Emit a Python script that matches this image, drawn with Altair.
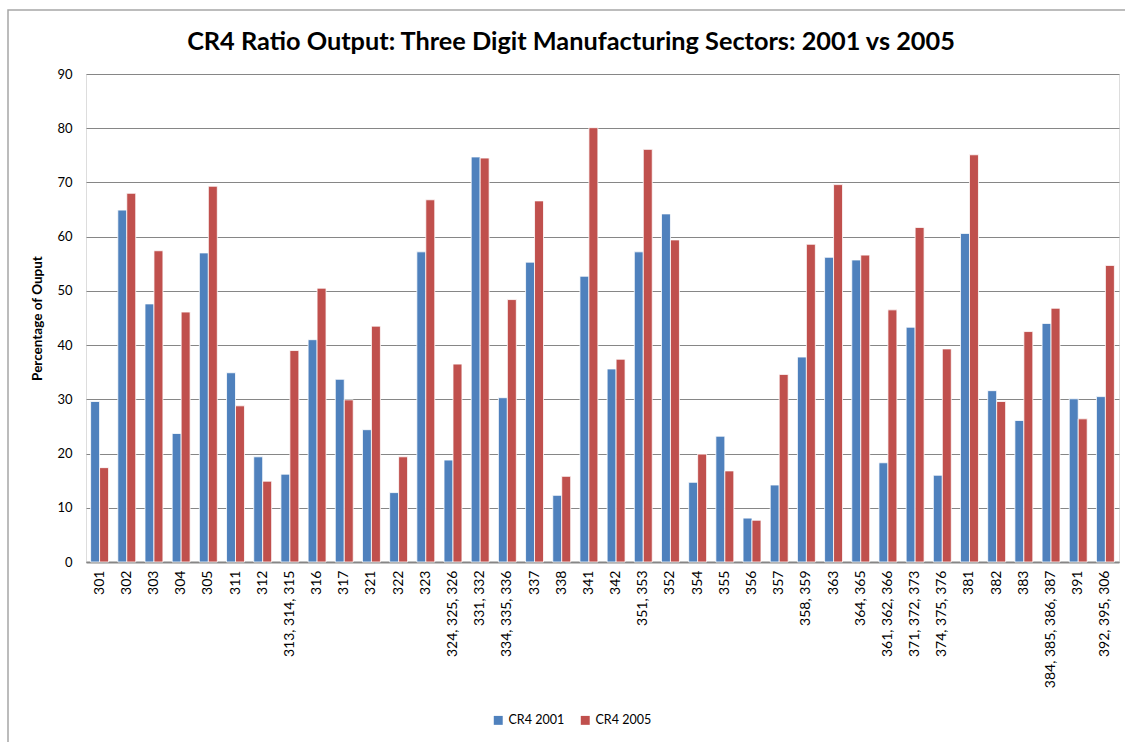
import altair as alt
import pandas as pd

categories = ["301", "302", "303", "304", "305", "311", "312", "313, 314, 315", "316", "317",
              "321", "322", "323", "324, 325, 326", "331, 332", "334, 335, 336", "337", "338",
              "341", "342", "351, 353", "352", "354", "355", "356", "357", "358, 359", "363",
              "364, 365", "361, 362, 366", "371, 372, 373", "374, 375, 376", "381", "382", "383",
              "384, 385, 386, 387", "391", "392, 395, 306"]
cr4_2001 = [29.6, 64.9, 47.6, 23.7, 57.0, 34.9, 19.4, 16.2, 41.0, 33.7,
            24.4, 12.8, 57.2, 18.8, 74.7, 30.3, 55.3, 12.3,
            52.7, 35.6, 57.2, 64.2, 14.7, 23.2, 8.1, 14.2, 37.8, 56.2,
            55.7, 18.3, 43.3, 16.0, 60.6, 31.6, 26.1,
            44.0, 30.1, 30.5]
cr4_2005 = [17.4, 68.0, 57.4, 46.1, 69.3, 28.8, 14.9, 39.0, 50.5, 29.9,
            43.5, 19.4, 66.8, 36.5, 74.5, 48.4, 66.6, 15.8,
            80.1, 37.4, 76.1, 59.4, 19.9, 16.8, 7.7, 34.6, 58.6, 69.6,
            56.6, 46.5, 61.7, 39.3, 75.1, 29.6, 42.5,
            46.8, 26.4, 54.7]
series_names = ["CR4 2001", "CR4 2005"]
series_colors = ["#4F81BD", "#C0504D"]
title_text = ["CR4 Ratio Output: Three Digit Manufacturing Sectors: 2001 vs 2005"]

rows = []
for i, c in enumerate(categories):
    rows.append({"cat": c, "series": series_names[0], "value": cr4_2001[i]})
    rows.append({"cat": c, "series": series_names[1], "value": cr4_2005[i]})
df = pd.DataFrame(rows)

FONT = "Lato"
W, H = 1033, 488
PAD_L, PAD_T = 86, 74

bars = alt.Chart(df).mark_bar(stroke="white", strokeWidth=0.8).encode(
    x=alt.X("cat:N", sort=categories, title=None,
            scale=alt.Scale(paddingInner=0.34, paddingOuter=0.17),
            axis=alt.Axis(labelAngle=-90, labelFont=FONT, labelFontSize=14,
                          labelColor="#000000", labelPadding=8, ticks=False,
                          domainColor="#868686", domainWidth=2, labelBaseline="middle")),
    xOffset=alt.XOffset("series:N", sort=series_names),
    y=alt.Y("value:Q", title="Percentage of Ouput",
            scale=alt.Scale(domain=[0, 90], nice=False),
            axis=alt.Axis(values=list(range(0, 91, 10)), labelFont=FONT, labelFontSize=13,
                          labelColor="#000000", labelPadding=14, ticks=False, domain=False,
                          gridColor="#868686", gridWidth=1,
                          titleFont=FONT, titleFontSize=13.5, titleFontWeight="bold",
                          titleColor="#000000", titlePadding=12)),
    color=alt.Color("series:N", sort=series_names,
                    scale=alt.Scale(domain=series_names, range=series_colors),
                    legend=alt.Legend(title=None, orient="none", direction="horizontal",
                                      legendX=406, legendY=640, symbolType="square",
                                      symbolSize=80, symbolStrokeWidth=0,
                                      labelFont=FONT, labelFontSize=12.5, labelColor="#000000",
                                      columnPadding=14, labelOffset=4)),
)

frame = alt.Chart(pd.DataFrame({"k": [0]})).mark_rect(
    fill=None, stroke="#A6A6A6", strokeWidth=1.5, clip=False
).encode(
    x=alt.value(8 - PAD_L), x2=alt.value(1140 - PAD_L),
    y=alt.value(10 - PAD_T), y2=alt.value(760 - PAD_T),
)

title = alt.Chart(pd.DataFrame({"t": title_text})).mark_text(
    font=FONT, fontSize=25.3, fontWeight="bold", color="#000000",
    align="center", baseline="middle", clip=False
).encode(
    text="t:N", x=alt.value(571 - PAD_L), y=alt.value(42 - PAD_T),
)

chart = alt.layer(frame, bars, title).properties(
    width=W, height=H,
    padding={"left": PAD_L, "top": PAD_T, "right": 1125 - PAD_L - W, "bottom": 742 - PAD_T - H},
    autosize=alt.AutoSizeParams(type="none"),
).configure_view(stroke=None).configure(background="white")

chart.save("out.html", embed_options={"renderer": "svg", "actions": False})
